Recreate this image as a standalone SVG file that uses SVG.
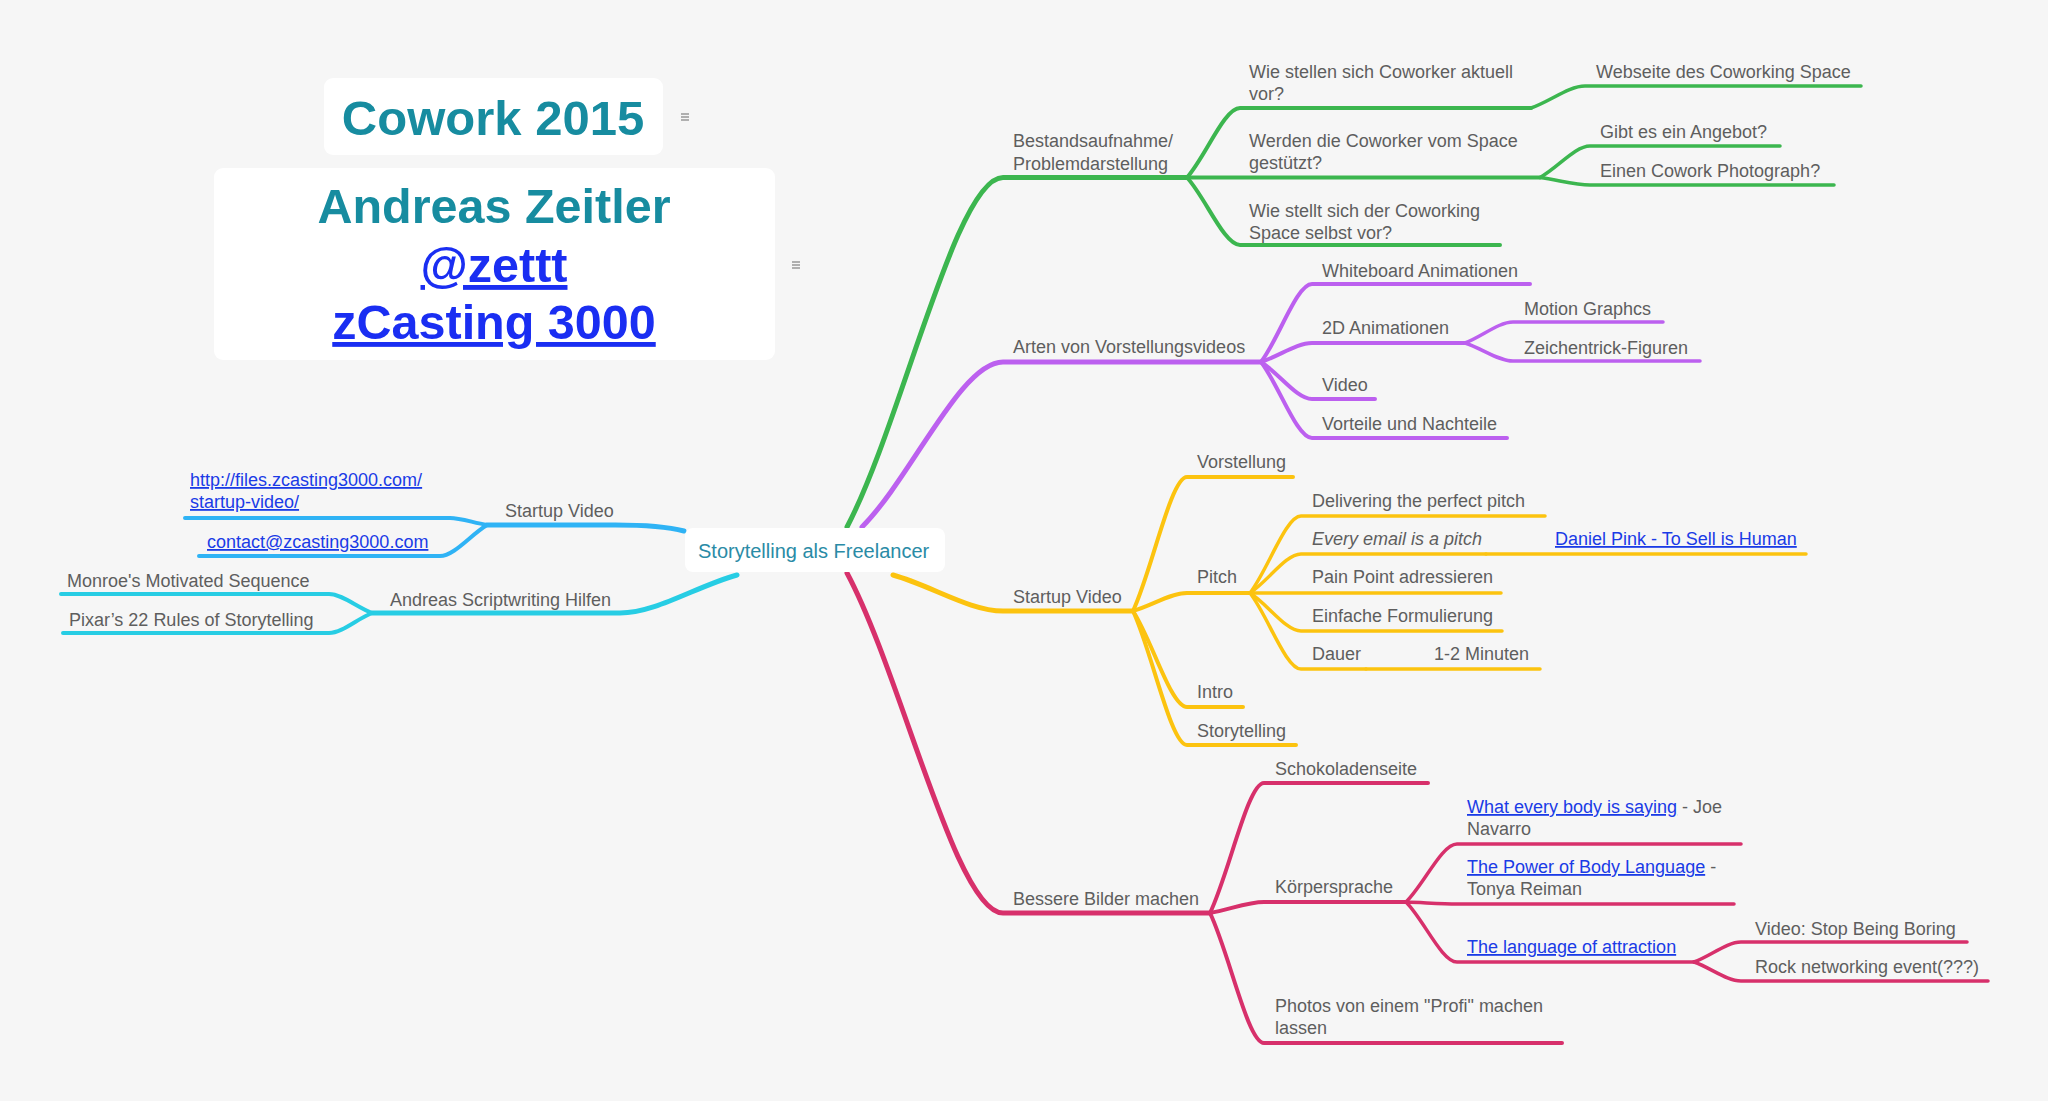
<svg xmlns="http://www.w3.org/2000/svg" width="2048" height="1101" viewBox="0 0 2048 1101">
<defs>
<style>
.t{font-family:"Liberation Sans",Arial,sans-serif;font-size:18px;fill:#5e5e5e}
.it{font-style:italic}
.lk{fill:#1a3be6;text-decoration:underline}
.ttl{font-family:"Liberation Sans",Arial,sans-serif;font-weight:bold;fill:#178ca0;text-anchor:middle}
.ttlk{fill:#1a2ef2;text-decoration:underline}
.box{fill:#ffffff}
.c path{fill:none;stroke-linecap:round;stroke-linejoin:round}
.m{stroke-width:5}
.s{stroke-width:4}
.l{stroke-width:3.5}
.g path{stroke:#3cb64f}
.p path{stroke:#bc60ef}
.y path{stroke:#fcc30f}
.r path{stroke:#d7306b}
.b path{stroke:#2fb3f5}
.cy path{stroke:#27cde4}
.ico line{stroke:#8a8a8a;stroke-width:1.3}
</style>
</defs>
<rect width="2048" height="1101" fill="#f6f6f6"/>

<g id="connectors" class="c">
<g class="g">
<path class="m" d="M847,527 C902,422 956,177.5 1003,177.5 L1187,177.5"/>
<path class="s" d="M1187,177.5 L1540,177.5"/>
<path class="s" d="M1187,177.5 C1205.6,156.6 1224.1,108 1240,108 L1531,108"/>
<path class="l" d="M1531,108 C1550,101.4 1569,86 1585,86 L1861,86"/>
<path class="l" d="M1540,177.5 C1557.5,168 1575,146 1590,146 L1780,146"/>
<path class="l" d="M1540,177.5 C1557.5,179.8 1575,185 1590,185 L1834,185"/>
<path class="s" d="M1187,177.5 C1205.6,197.8 1224.1,245 1240,245 L1500,245"/>
</g>
<g class="p">
<path class="m" d="M862,527 C911.4,477.5 960.7,362 1003,362 L1261,362"/>
<path class="s" d="M1261,362 C1278.9,338.6 1296.7,284 1312,284 L1530,284"/>
<path class="s" d="M1261,362 C1278.9,356.3 1296.7,343 1312,343 L1465,343"/>
<path class="l" d="M1465,343 C1481.8,336.7 1498.6,322 1513,322 L1663,322"/>
<path class="l" d="M1465,343 C1481.8,348.4 1498.6,361 1513,361 L1700,361"/>
<path class="s" d="M1261,362 C1278.9,373.1 1296.7,399 1312,399 L1375,399"/>
<path class="s" d="M1261,362 C1278.9,384.8 1296.7,438 1312,438 L1507,438"/>
</g>
<g class="y">
<path class="m" d="M893,575 C931.5,585.8 970,611 1003,611 L1133,611"/>
<path class="s" d="M1133,611 C1151.9,570.8 1170.8,477 1187,477 L1293,477"/>
<path class="s" d="M1133,611 C1151.9,605.6 1170.8,593 1187,593 L1250,593"/>
<path class="l" d="M1250,593 C1267.9,569.9 1285.7,516 1301,516 L1545,516"/>
<path class="l" d="M1250,593 C1267.9,581.3 1285.7,554 1301,554 L1486,554"/>
<path class="l" d="M1486,554 L1806,554"/>
<path class="l" d="M1250,593 L1501,593"/>
<path class="l" d="M1250,593 C1267.9,604.4 1285.7,631 1301,631 L1502,631"/>
<path class="l" d="M1250,593 C1267.9,615.8 1285.7,669 1301,669 L1366,669"/>
<path class="l" d="M1366,669 L1540,669"/>
<path class="s" d="M1133,611 C1151.9,639.8 1170.8,707 1187,707 L1243,707"/>
<path class="s" d="M1133,611 C1151.9,651.2 1170.8,745 1187,745 L1296,745"/>
</g>
<g class="r">
<path class="m" d="M847,573 C901.6,675 956.2,913 1003,913 L1210,913"/>
<path class="s" d="M1210,913 C1228.9,874 1247.8,783 1264,783 L1428,783"/>
<path class="s" d="M1210,913 C1228.9,909.7 1247.8,902 1264,902 L1406,902"/>
<path class="l" d="M1406,902 C1423.9,884.6 1441.7,844 1457,844 L1741,844"/>
<path class="l" d="M1406,902 C1423.9,902.6 1441.7,904 1457,904 L1734,904"/>
<path class="l" d="M1406,902 C1423.9,920 1441.7,962 1457,962 L1694,962"/>
<path class="l" d="M1694,962 C1710.5,956 1726.9,942 1741,942 L1967,942"/>
<path class="l" d="M1694,962 C1710.5,967.7 1726.9,981 1741,981 L1988,981"/>
<path class="s" d="M1210,913 C1228.9,952 1247.8,1043 1264,1043 L1562,1043"/>
</g>
<g class="b">
<path class="m" d="M684,531 C665,526 640,525 615,525 L487,525"/>
<path class="s" d="M487,525 C474,523 461,518 450,518 L185,518"/>
<path class="s" d="M487,525 C470.5,535 454,556 440,556 L199,556"/>
</g>
<g class="cy">
<path class="m" d="M737,575 C696,586.4 656,613 620,613 L372,613"/>
<path class="s" d="M372,613 C357,607.3 342,594 329,594 L61,594"/>
<path class="s" d="M372,613 C357,619 342,633 329,633 L63,633"/>
</g>
</g>

<g id="title1">
<rect class="box" x="324" y="78" width="339" height="77" rx="9"/>
<text class="ttl" x="493" y="135" font-size="49">Cowork 2015</text>
<g class="ico"><line x1="681" y1="114" x2="689" y2="114"/><line x1="681" y1="117" x2="689" y2="117"/><line x1="681" y1="120" x2="689" y2="120"/></g>
</g>
<g id="title2">
<rect class="box" x="214" y="168" width="561" height="192" rx="9"/>
<text class="ttl" x="494" y="223" font-size="48.5">Andreas Zeitler</text>
<text class="ttl" x="494" y="282" font-size="48.5"><tspan class="ttlk">@zettt</tspan></text>
<text class="ttl" x="494" y="339" font-size="48.5"><tspan class="ttlk">zCasting 3000</tspan></text>
<g class="ico"><line x1="792" y1="262" x2="800" y2="262"/><line x1="792" y1="265" x2="800" y2="265"/><line x1="792" y1="268" x2="800" y2="268"/></g>
</g>

<g id="center">
<rect class="box" x="685" y="528" width="260" height="44" rx="8"/>
<text class="t" x="698" y="558" style="font-size:20px;fill:#2a8ba6">Storytelling als Freelancer</text>
</g>

<g id="n-bestand"><text class="t" x="1013" y="147">Bestandsaufnahme/</text><text class="t" x="1013" y="170">Problemdarstellung</text></g>
<g id="n-wie-stellen"><text class="t" x="1249" y="78">Wie stellen sich Coworker aktuell</text><text class="t" x="1249" y="100">vor?</text></g>
<g id="n-webseite"><text class="t" x="1596" y="78">Webseite des Coworking Space</text></g>
<g id="n-werden"><text class="t" x="1249" y="147">Werden die Coworker vom Space</text><text class="t" x="1249" y="169">gestützt?</text></g>
<g id="n-gibt"><text class="t" x="1600" y="138">Gibt es ein Angebot?</text></g>
<g id="n-einen"><text class="t" x="1600" y="177">Einen Cowork Photograph?</text></g>
<g id="n-wie-stellt"><text class="t" x="1249" y="217">Wie stellt sich der Coworking</text><text class="t" x="1249" y="239">Space selbst vor?</text></g>

<g id="n-arten"><text class="t" x="1013" y="353">Arten von Vorstellungsvideos</text></g>
<g id="n-whiteboard"><text class="t" x="1322" y="277">Whiteboard Animationen</text></g>
<g id="n-2d"><text class="t" x="1322" y="334">2D Animationen</text></g>
<g id="n-motion"><text class="t" x="1524" y="315">Motion Graphcs</text></g>
<g id="n-zeichen"><text class="t" x="1524" y="354">Zeichentrick-Figuren</text></g>
<g id="n-video"><text class="t" x="1322" y="391">Video</text></g>
<g id="n-vorteile"><text class="t" x="1322" y="430">Vorteile und Nachteile</text></g>

<g id="n-startup"><text class="t" x="1013" y="603">Startup Video</text></g>
<g id="n-vorstellung"><text class="t" x="1197" y="468">Vorstellung</text></g>
<g id="n-pitch"><text class="t" x="1197" y="583">Pitch</text></g>
<g id="n-delivering"><text class="t" x="1312" y="507">Delivering the perfect pitch</text></g>
<g id="n-every"><text class="t it" x="1312" y="545">Every email is a pitch</text></g>
<g id="n-daniel"><text class="t" x="1555" y="545"><tspan class="lk">Daniel Pink - To Sell is Human</tspan></text></g>
<g id="n-pain"><text class="t" x="1312" y="583">Pain Point adressieren</text></g>
<g id="n-einfache"><text class="t" x="1312" y="622">Einfache Formulierung</text></g>
<g id="n-dauer"><text class="t" x="1312" y="660">Dauer</text></g>
<g id="n-minuten"><text class="t" x="1434" y="660">1-2 Minuten</text></g>
<g id="n-intro"><text class="t" x="1197" y="698">Intro</text></g>
<g id="n-storytelling"><text class="t" x="1197" y="737">Storytelling</text></g>

<g id="n-bessere"><text class="t" x="1013" y="905">Bessere Bilder machen</text></g>
<g id="n-schoko"><text class="t" x="1275" y="775">Schokoladenseite</text></g>
<g id="n-koerper"><text class="t" x="1275" y="893">Körpersprache</text></g>
<g id="n-what"><text class="t" x="1467" y="813"><tspan class="lk">What every body is saying</tspan> - Joe</text><text class="t" x="1467" y="835">Navarro</text></g>
<g id="n-power"><text class="t" x="1467" y="873"><tspan class="lk">The Power of Body Language</tspan> -</text><text class="t" x="1467" y="895">Tonya Reiman</text></g>
<g id="n-language"><text class="t" x="1467" y="953"><tspan class="lk">The language of attraction</tspan></text></g>
<g id="n-stop"><text class="t" x="1755" y="935">Video: Stop Being Boring</text></g>
<g id="n-rock"><text class="t" x="1755" y="973">Rock networking event(???)</text></g>
<g id="n-photos"><text class="t" x="1275" y="1012">Photos von einem "Profi" machen</text><text class="t" x="1275" y="1034">lassen</text></g>

<g id="n-startup-left"><text class="t" x="505" y="517">Startup Video</text></g>
<g id="n-http"><text class="t" x="190" y="486"><tspan class="lk">http://files.zcasting3000.com/</tspan></text><text class="t" x="190" y="508"><tspan class="lk">startup-video/</tspan></text></g>
<g id="n-contact"><text class="t" x="207" y="548"><tspan class="lk">contact@zcasting3000.com</tspan></text></g>
<g id="n-script"><text class="t" x="390" y="606">Andreas Scriptwriting Hilfen</text></g>
<g id="n-monroe"><text class="t" x="67" y="587">Monroe's Motivated Sequence</text></g>
<g id="n-pixar"><text class="t" x="69" y="626">Pixar’s 22 Rules of Storytelling</text></g>
</svg>
